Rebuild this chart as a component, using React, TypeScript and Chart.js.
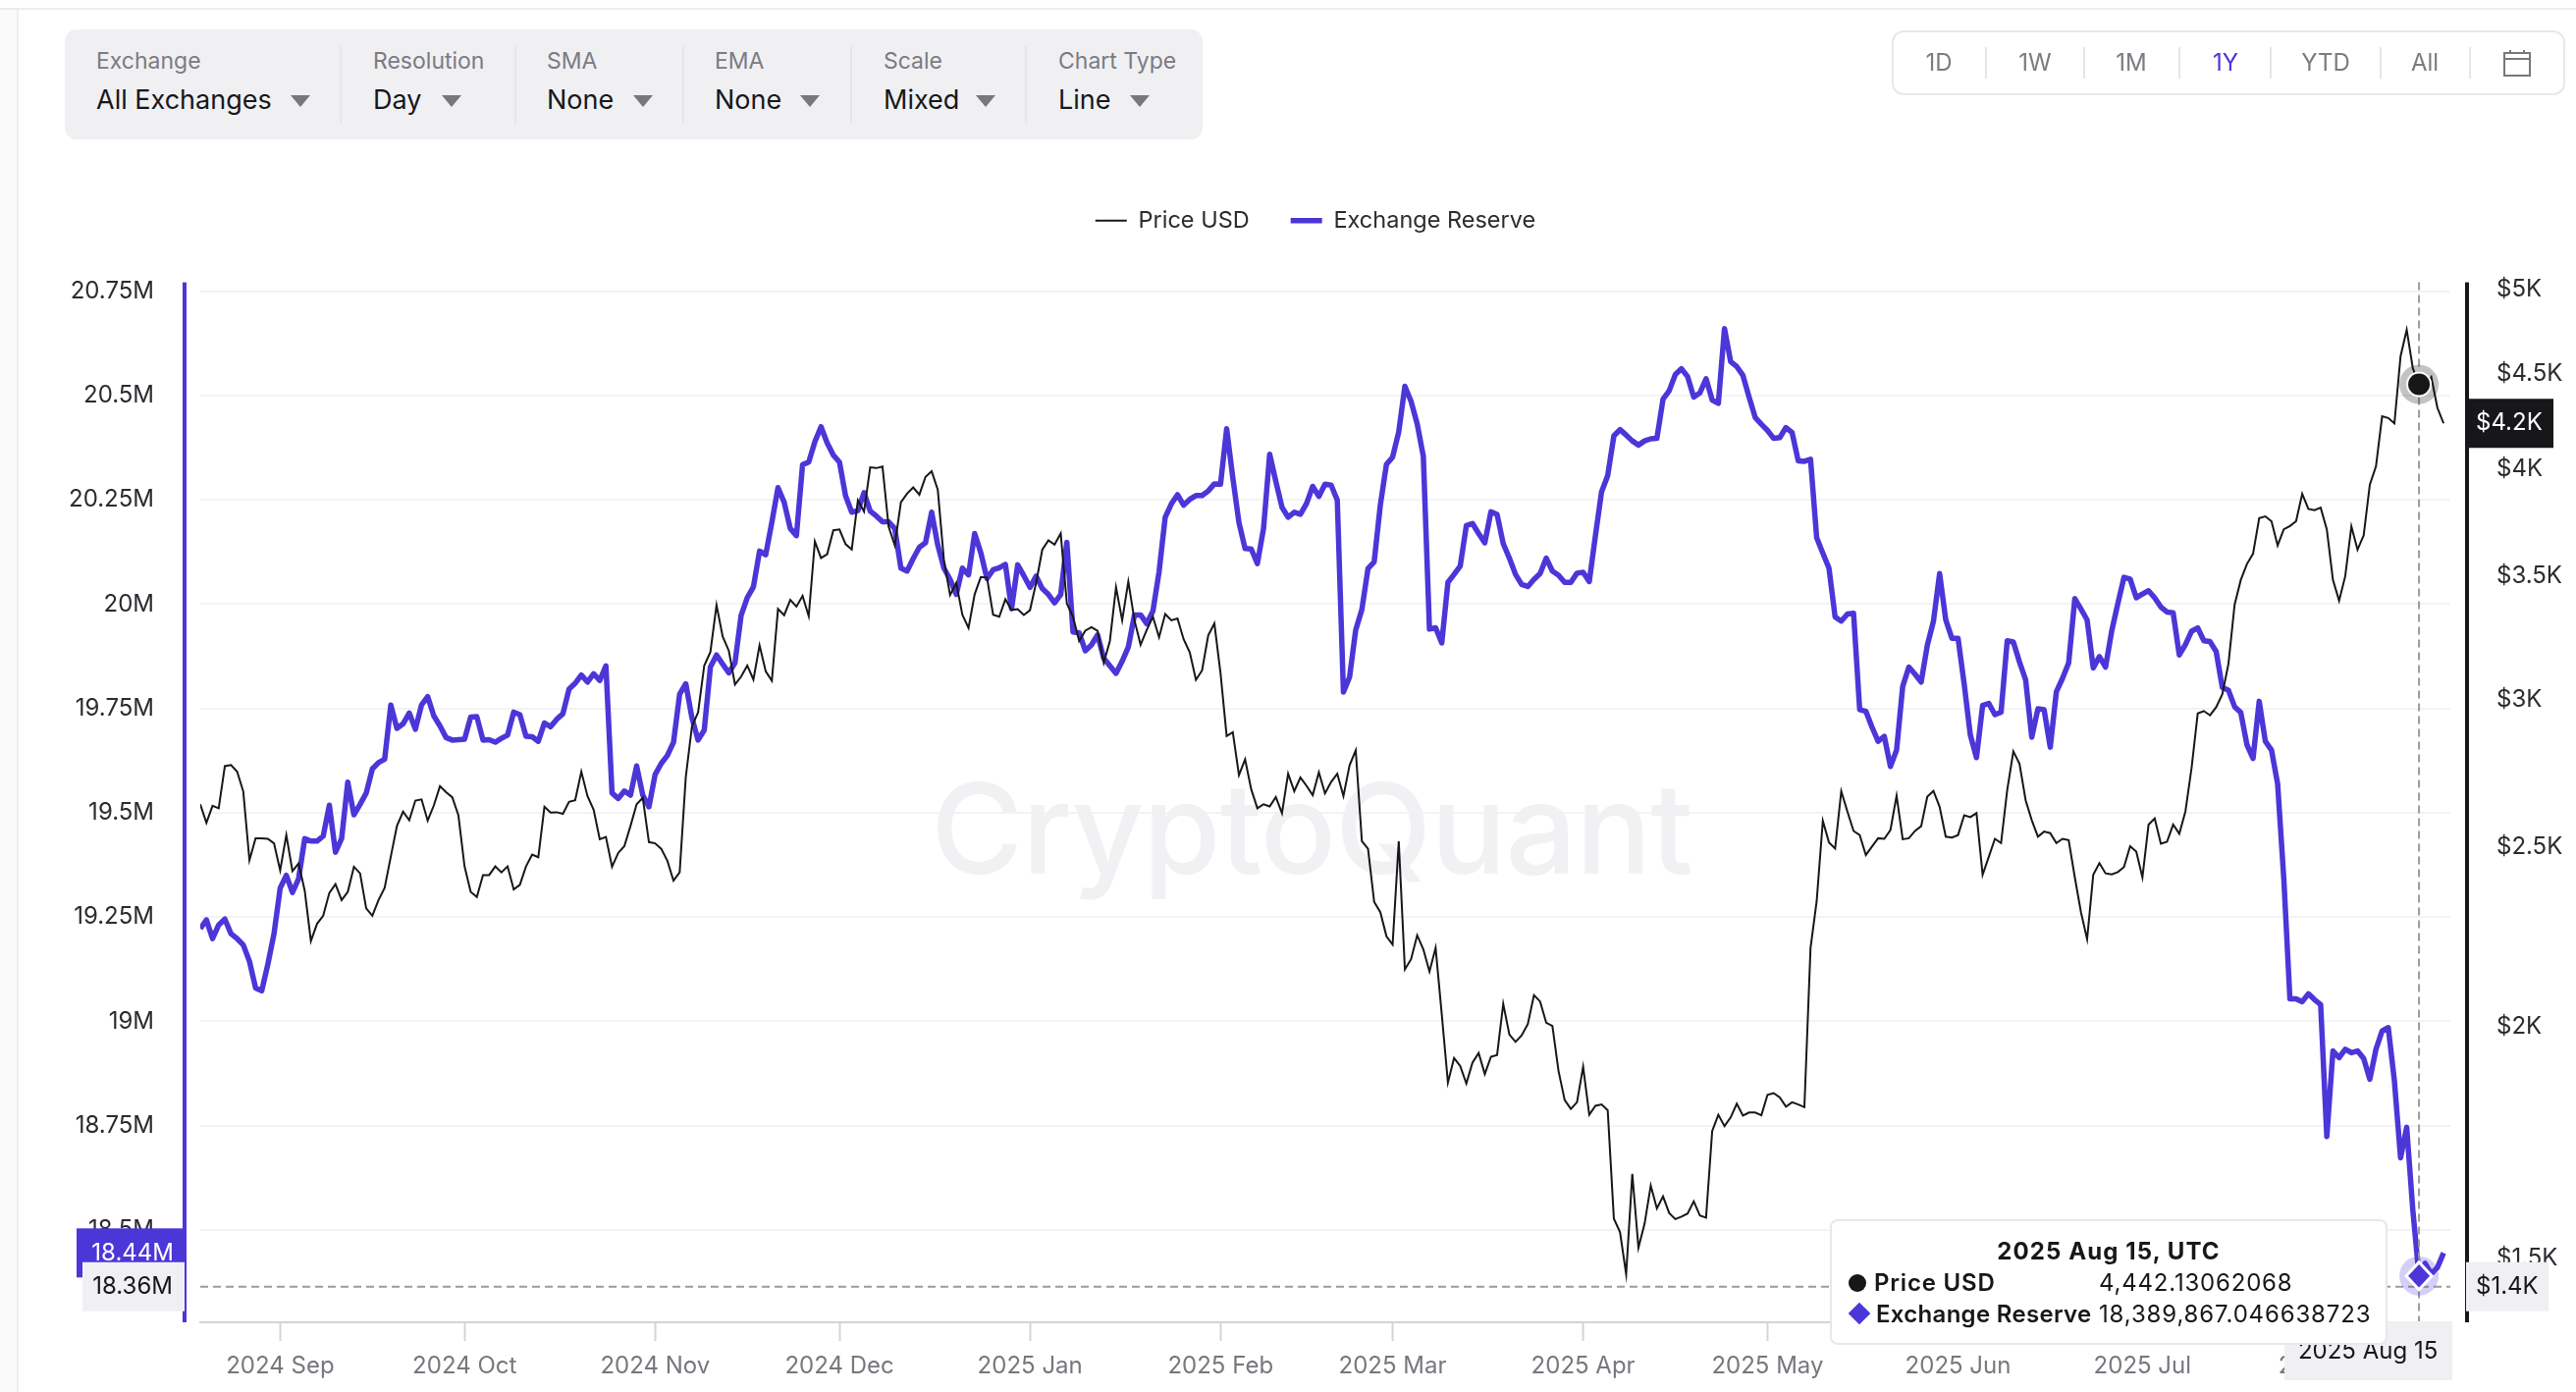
import { useEffect, useRef } from 'react';
import { Chart, registerables } from 'chart.js';

Chart.register(...registerables);

const FONT = 'Inter, "Noto Sans", sans-serif';
const PURPLE = '#4b36d8';
const INK = '#17171a';

// one value per day, 2024 Aug 19 to 2025 Aug 19
const priceUsd = [
  2636, 2576, 2631, 2623, 2764, 2768, 2745, 2678, 2459, 2527,
  2527, 2525, 2511, 2428, 2537, 2426, 2449, 2367, 2224, 2272,
  2295, 2361, 2387, 2340, 2364, 2439, 2419, 2316, 2295, 2340,
  2376, 2470, 2566, 2612, 2584, 2648, 2652, 2583, 2632, 2696,
  2676, 2659, 2600, 2440, 2364, 2349, 2414, 2414, 2440, 2422,
  2440, 2371, 2385, 2440, 2476, 2468, 2628, 2609, 2610, 2605,
  2644, 2649, 2745, 2663, 2618, 2524, 2531, 2439, 2481, 2502,
  2566, 2636, 2657, 2515, 2511, 2494, 2457, 2397, 2422, 2727,
  2904, 2955, 3132, 3185, 3376, 3247, 3190, 3059, 3089, 3132,
  3078, 3212, 3110, 3073, 3360, 3334, 3398, 3370, 3415, 3330,
  3654, 3580, 3597, 3705, 3709, 3642, 3618, 3846, 3793, 4007,
  4003, 4011, 3722, 3637, 3837, 3878, 3908, 3873, 3960, 3988,
  3896, 3569, 3419, 3471, 3336, 3282, 3422, 3496, 3494, 3336,
  3328, 3401, 3356, 3359, 3335, 3355, 3471, 3617, 3659, 3640,
  3691, 3383, 3328, 3229, 3271, 3285, 3270, 3143, 3229, 3452,
  3313, 3477, 3313, 3214, 3274, 3328, 3244, 3339, 3313, 3321,
  3236, 3184, 3077, 3113, 3251, 3300, 3103, 2869, 2883, 2733,
  2787, 2685, 2623, 2636, 2629, 2660, 2607, 2738, 2679, 2725,
  2697, 2666, 2743, 2672, 2710, 2738, 2663, 2767, 2819, 2518,
  2494, 2335, 2305, 2237, 2214, 2517, 2147, 2174, 2240, 2201,
  2141, 2205, 2030, 1865, 1923, 1904, 1863, 1912, 1935, 1885,
  1926, 1930, 2057, 1980, 1962, 1978, 2006, 2079, 2063, 2009,
  2001, 1892, 1825, 1805, 1820, 1902, 1792, 1812, 1815, 1802,
  1575, 1549, 1470, 1665, 1519, 1565, 1641, 1595, 1619, 1586,
  1574, 1579, 1585, 1609, 1581, 1577, 1756, 1792, 1767, 1786,
  1817, 1790, 1797, 1797, 1791, 1837, 1841, 1831, 1810, 1820,
  1815, 1809, 2205, 2337, 2582, 2514, 2495, 2679, 2612, 2550,
  2537, 2475, 2501, 2527, 2525, 2553, 2664, 2524, 2527, 2550,
  2565, 2661, 2680, 2628, 2532, 2529, 2537, 2600, 2594, 2607,
  2415, 2469, 2525, 2512, 2683, 2815, 2772, 2649, 2584, 2532,
  2548, 2543, 2512, 2525, 2521, 2407, 2305, 2229, 2415, 2450,
  2419, 2416, 2423, 2438, 2502, 2485, 2407, 2570, 2590, 2510,
  2516, 2570, 2541, 2613, 2758, 2951, 2960, 2944, 2974, 3022,
  3139, 3378, 3483, 3553, 3599, 3762, 3770, 3747, 3636, 3710,
  3725, 3747, 3877, 3805, 3799, 3811, 3710, 3483, 3395, 3500,
  3723, 3617, 3682, 3922, 4012, 4269, 4260, 4232, 4600, 4754,
  4532, 4442.13, 4430, 4482, 4314, 4232,
];

// millions
const exchangeReserve = [
  19.222, 19.243, 19.198, 19.231, 19.245, 19.21, 19.198, 19.183, 19.144, 19.08,
  19.073, 19.137, 19.21, 19.319, 19.35, 19.309, 19.342, 19.438, 19.432, 19.432,
  19.444, 19.518, 19.405, 19.438, 19.573, 19.495, 19.52, 19.547, 19.605, 19.62,
  19.628, 19.758, 19.702, 19.713, 19.739, 19.7, 19.758, 19.778, 19.732, 19.708,
  19.68, 19.674, 19.675, 19.676, 19.729, 19.73, 19.674, 19.675, 19.669, 19.678,
  19.686, 19.741, 19.735, 19.683, 19.682, 19.671, 19.715, 19.706, 19.724, 19.737,
  19.796, 19.81, 19.83, 19.813, 19.833, 19.817, 19.852, 19.547, 19.534, 19.552,
  19.542, 19.612, 19.542, 19.514, 19.591, 19.618, 19.637, 19.669, 19.784, 19.809,
  19.727, 19.674, 19.698, 19.849, 19.878, 19.856, 19.835, 19.859, 19.973, 20.015,
  20.041, 20.127, 20.118, 20.196, 20.279, 20.244, 20.181, 20.164, 20.334, 20.34,
  20.389, 20.425, 20.386, 20.357, 20.34, 20.259, 20.22, 20.224, 20.267, 20.223,
  20.211, 20.197, 20.197, 20.181, 20.086, 20.079, 20.109, 20.136, 20.147, 20.22,
  20.141, 20.086, 20.059, 20.023, 20.086, 20.07, 20.169, 20.123, 20.061, 20.082,
  20.087, 20.095, 19.989, 20.094, 20.068, 20.04, 20.067, 20.037, 20.023, 20.003,
  20.023, 20.148, 19.933, 19.931, 19.888, 19.902, 19.926, 19.87, 19.852, 19.834,
  19.863, 19.897, 19.974, 19.974, 19.953, 19.983, 20.077, 20.208, 20.24, 20.262,
  20.237, 20.251, 20.26, 20.26, 20.271, 20.288, 20.287, 20.42, 20.303, 20.195,
  20.133, 20.132, 20.097, 20.181, 20.359, 20.294, 20.232, 20.208, 20.22, 20.215,
  20.241, 20.282, 20.258, 20.287, 20.285, 20.249, 19.789, 19.825, 19.938, 19.987,
  20.085, 20.101, 20.237, 20.335, 20.352, 20.413, 20.522, 20.486, 20.432, 20.354,
  19.94, 19.943, 19.907, 20.052, 20.071, 20.091, 20.188, 20.193, 20.169, 20.147,
  20.221, 20.215, 20.145, 20.11, 20.071, 20.047, 20.042, 20.059, 20.073, 20.11,
  20.079, 20.069, 20.052, 20.052, 20.074, 20.076, 20.054, 20.164, 20.269, 20.308,
  20.403, 20.418, 20.405, 20.391, 20.381, 20.391, 20.396, 20.397, 20.491, 20.511,
  20.55, 20.564, 20.545, 20.496, 20.506, 20.54, 20.489, 20.481, 20.66, 20.581,
  20.569, 20.548, 20.496, 20.447, 20.431, 20.416, 20.397, 20.399, 20.423, 20.411,
  20.343, 20.342, 20.347, 20.159, 20.122, 20.086, 19.969, 19.959, 19.976, 19.978,
  19.747, 19.743, 19.705, 19.671, 19.683, 19.611, 19.65, 19.803, 19.849, 19.832,
  19.813, 19.901, 19.959, 20.073, 19.962, 19.918, 19.918, 19.808, 19.686, 19.632,
  19.757, 19.762, 19.735, 19.741, 19.912, 19.909, 19.861, 19.818, 19.681, 19.749,
  19.747, 19.657, 19.79, 19.822, 19.859, 20.013, 19.988, 19.962, 19.847, 19.874,
  19.849, 19.935, 20.001, 20.064, 20.06, 20.015, 20.024, 20.032, 20.015, 19.993,
  19.981, 19.979, 19.878, 19.903, 19.935, 19.943, 19.912, 19.91, 19.886, 19.8,
  19.793, 19.754, 19.74, 19.663, 19.63, 19.767, 19.671, 19.65, 19.569, 19.343,
  19.054, 19.054, 19.047, 19.066, 19.052, 19.04, 18.724, 18.929, 18.913, 18.933,
  18.925, 18.929, 18.911, 18.861, 18.933, 18.977, 18.985, 18.857, 18.673, 18.746,
  18.547, 18.39, 18.42, 18.395, 18.41, 18.445,
];

const monthDays = [13, 43, 74, 104, 135, 166, 194, 225, 255, 286, 316, 347];
const monthLabels = [
  '2024 Sep', '2024 Oct', '2024 Nov', '2024 Dec', '2025 Jan', '2025 Feb',
  '2025 Mar', '2025 Apr', '2025 May', '2025 Jun', '2025 Jul', '2025 Aug',
];
const reserveTicks = [18.5, 18.75, 19, 19.25, 19.5, 19.75, 20, 20.25, 20.5, 20.75];
const priceTicks = [1500, 2000, 2500, 3000, 3500, 4000, 4500, 5000];

const hoverDay = 361;
const hoverLevel = 18.364;

const controls = [
  { name: 'Exchange', value: 'All Exchanges', x: 98, arrow: 306 },
  { name: 'Resolution', value: 'Day', x: 380, arrow: 460 },
  { name: 'SMA', value: 'None', x: 557, arrow: 655 },
  { name: 'EMA', value: 'None', x: 728, arrow: 825 },
  { name: 'Scale', value: 'Mixed', x: 900, arrow: 1004 },
  { name: 'Chart Type', value: 'Line', x: 1078, arrow: 1161 },
];
const controlDividers = [346, 524, 695, 866, 1044];
const ranges = [
  { label: '1D', x: 1975 }, { label: '1W', x: 2073 }, { label: '1M', x: 2171 },
  { label: '1Y', x: 2267 }, { label: 'YTD', x: 2369 }, { label: 'All', x: 2470 },
];
const rangeDividers = [2022, 2122, 2219, 2312, 2424, 2515];

function axisTag(ctx: CanvasRenderingContext2D, x0: number, x1: number, cy: number, bg: string, color: string, text: string, textX: number, align: CanvasTextAlign) {
  ctx.fillStyle = bg;
  ctx.fillRect(x0, cy - 25, x1 - x0, 50);
  ctx.fillStyle = color;
  ctx.textAlign = align;
  ctx.textBaseline = 'middle';
  ctx.font = `24px ${FONT}`;
  ctx.fillText(text, textX, cy);
}

const overlays = {
  id: 'overlays',
  beforeDatasetsDraw(chart: any) {
    const { ctx } = chart;
    ctx.save();
    ctx.font = `500 128px ${FONT}`;
    ctx.letterSpacing = '-1px';
    ctx.fillStyle = '#f1f1f3';
    ctx.textAlign = 'center';
    ctx.textBaseline = 'alphabetic';
    ctx.fillText('CryptoQuant', 1336, 890);
    ctx.restore();
  },
  afterDraw(chart: any) {
    const { ctx, chartArea, scales } = chart;
    const { left, right, bottom } = chartArea;
    const top = scales.y.getPixelForValue(20.771);
    const hx = scales.x.getPixelForValue(hoverDay);
    const hy = scales.y.getPixelForValue(hoverLevel);
    ctx.save();

    // crosshair
    ctx.strokeStyle = '#9b9b9f';
    ctx.lineWidth = 2;
    ctx.setLineDash([8, 5]);
    ctx.beginPath();
    ctx.moveTo(hx, top);
    ctx.lineTo(hx, bottom);
    ctx.moveTo(left, hy);
    ctx.lineTo(right, hy);
    ctx.stroke();
    ctx.setLineDash([]);

    // axis lines sit a little outside the plot
    ctx.fillStyle = PURPLE;
    ctx.fillRect(left - 18, top, 4, bottom - top);
    ctx.fillStyle = INK;
    ctx.fillRect(right + 15, top, 4, bottom - top);

    // hover markers
    const pricePoint = chart.getDatasetMeta(0).data[hoverDay];
    const reservePoint = chart.getDatasetMeta(1).data[hoverDay];
    ctx.fillStyle = 'rgba(23,23,26,0.26)';
    ctx.beginPath();
    ctx.arc(pricePoint.x, pricePoint.y, 20, 0, Math.PI * 2);
    ctx.fill();
    ctx.fillStyle = '#fff';
    ctx.beginPath();
    ctx.arc(pricePoint.x, pricePoint.y, 13, 0, Math.PI * 2);
    ctx.fill();
    ctx.fillStyle = INK;
    ctx.beginPath();
    ctx.arc(pricePoint.x, pricePoint.y, 11, 0, Math.PI * 2);
    ctx.fill();

    ctx.fillStyle = 'rgba(75,54,216,0.24)';
    ctx.beginPath();
    ctx.arc(reservePoint.x, reservePoint.y, 20, 0, Math.PI * 2);
    ctx.fill();
    ctx.fillStyle = PURPLE;
    ctx.strokeStyle = '#fff';
    ctx.lineWidth = 3;
    ctx.beginPath();
    ctx.moveTo(reservePoint.x, reservePoint.y - 14);
    ctx.lineTo(reservePoint.x + 13, reservePoint.y);
    ctx.lineTo(reservePoint.x, reservePoint.y + 14);
    ctx.lineTo(reservePoint.x - 13, reservePoint.y);
    ctx.closePath();
    ctx.fill();
    ctx.stroke();

    // value tags on the axes
    const lastReserve = exchangeReserve[exchangeReserve.length - 1];
    const lastPrice = priceUsd[priceUsd.length - 1];
    axisTag(ctx, 78, 190, scales.y.getPixelForValue(lastReserve), PURPLE, '#fff', '18.44M', 177, 'right');
    axisTag(ctx, 84, 188, hy, '#f0f0f2', INK, '18.36M', 176, 'right');
    axisTag(ctx, right + 16, 2601, scales.y1.getPixelForValue(lastPrice), INK, '#fff', '$4.2K', 2522, 'left');
    axisTag(ctx, right + 16, 2596, hy, '#f0f0f2', INK, '$1.4K', 2522, 'left');

    ctx.fillStyle = '#f0f0f2';
    ctx.fillRect(hx - 137, 1346, 171, 60);
    ctx.fillStyle = INK;
    ctx.textAlign = 'center';
    ctx.textBaseline = 'middle';
    ctx.font = `24px ${FONT}`;
    ctx.fillText('2025 Aug 15', hx - 52, 1377);
    ctx.restore();
  },
};

function ReserveChart() {
  const canvasRef = useRef<HTMLCanvasElement>(null);

  useEffect(() => {
    if (!canvasRef.current) return;
    const chart = new Chart(canvasRef.current, {
      type: 'line',
      data: {
        datasets: [
          {
            label: 'Price USD',
            data: priceUsd.map((y, x) => ({ x, y })),
            yAxisID: 'y1',
            borderColor: INK,
            backgroundColor: INK,
            borderWidth: 2,
            pointRadius: 0,
            tension: 0,
          },
          {
            label: 'Exchange Reserve',
            data: exchangeReserve.map((y, x) => ({ x, y })),
            yAxisID: 'y',
            borderColor: PURPLE,
            backgroundColor: PURPLE,
            borderWidth: 5.5,
            borderJoinStyle: 'round',
            pointRadius: 0,
            tension: 0,
          },
        ],
      },
      options: {
        animation: false,
        responsive: false,
        devicePixelRatio: 1,
        layout: { autoPadding: false, padding: { left: 56, top: 171, right: 0, bottom: 0 } },
        plugins: {
          tooltip: { enabled: false },
          legend: {
            position: 'top',
            labels: {
              usePointStyle: true,
              pointStyle: 'line',
              pointStyleWidth: 32,
              padding: 42,
              color: '#2b2b30',
              font: { family: FONT, size: 23.5 },
            },
          },
        },
        scales: {
          x: {
            type: 'linear',
            min: 0,
            max: 366.1,
            afterFit: (scale: any) => { scale.height = 71; },
            afterBuildTicks: (scale: any) => { scale.ticks = monthDays.map((value) => ({ value })); },
            border: { color: '#d4d4d6', width: 2 },
            grid: { drawOnChartArea: false, drawTicks: true, tickLength: 19, tickColor: '#d4d4d6', tickWidth: 2 },
            ticks: {
              autoSkip: false,
              maxRotation: 0,
              padding: 11,
              color: '#77777d',
              font: { family: FONT, size: 24 },
              callback: (value: any) => monthLabels[monthDays.indexOf(value)],
            },
          },
          y: {
            position: 'left',
            min: 18.2787,
            max: 20.8677,
            afterFit: (scale: any) => { scale.width = 148; },
            afterBuildTicks: (scale: any) => { scale.ticks = reserveTicks.map((value) => ({ value })); },
            border: { display: false },
            grid: { color: '#f3f3f5', lineWidth: 2, drawTicks: false },
            ticks: {
              autoSkip: false,
              padding: 47,
              color: '#2b2b30',
              font: { family: FONT, size: 24 },
              callback: (value: any) => `${value}M`,
            },
          },
          y1: {
            type: 'logarithmic',
            position: 'right',
            min: 1384.6,
            max: 5302,
            afterFit: (scale: any) => { scale.width = 128; },
            afterBuildTicks: (scale: any) => { scale.ticks = priceTicks.map((value) => ({ value })); },
            border: { display: false },
            grid: { display: false, drawTicks: false },
            ticks: {
              autoSkip: false,
              padding: 47,
              color: '#2b2b30',
              font: { family: FONT, size: 24 },
              callback: (value: any) => `$${value / 1000}K`,
            },
          },
        },
      },
      plugins: [overlays],
    } as any);
    return () => { chart.destroy(); };
  }, []);

  return <canvas ref={canvasRef} width={2624} height={1418} style={{ display: 'block', position: 'absolute', left: 0, top: 0, width: 2624, height: 1418 }} />;
}

const abs = (left: number, top: number, extra: any = {}) => ({ position: 'absolute', left, top, ...extra });

function Toolbar() {
  return (
    <div>
      <div style={abs(66, 30, { width: 1159, height: 112, background: '#f0f0f3', borderRadius: 12 }) as any} />
      {controlDividers.map((x) => (
        <div key={x} style={abs(x, 47, { width: 2, height: 79, background: '#e6e6e9' }) as any} />
      ))}
      {controls.map((c) => (
        <div key={c.name}>
          <div style={abs(c.x, 47, { fontSize: 23, lineHeight: '30px', color: '#7b7b81', whiteSpace: 'nowrap' }) as any}>{c.name}</div>
          <div style={abs(c.x, 84, { fontSize: 27, lineHeight: '36px', color: '#17171a', whiteSpace: 'nowrap' }) as any}>{c.value}</div>
          <div style={abs(c.arrow - 10, 97, { width: 0, height: 0, borderLeft: '10px solid transparent', borderRight: '10px solid transparent', borderTop: '12px solid #77777c' }) as any} />
        </div>
      ))}
      <div style={abs(1927, 31, { width: 686, height: 66, boxSizing: 'border-box', border: '2px solid #e8e8ea', borderRadius: 12 }) as any} />
      {rangeDividers.map((x) => (
        <div key={x} style={abs(x, 48, { width: 2, height: 32, background: '#e6e6e9' }) as any} />
      ))}
      {ranges.map((r) => (
        <div key={r.label} style={abs(r.x - 40, 49, { width: 80, textAlign: 'center', fontSize: 24, lineHeight: '30px', color: r.label === '1Y' ? PURPLE : '#7b7b81' }) as any}>{r.label}</div>
      ))}
      <svg style={abs(2549, 50) as any} width="30" height="28" viewBox="0 0 30 28" fill="none" stroke="#77777c" strokeWidth="2">
        <rect x="2" y="4" width="26" height="23" />
        <path d="M2 10H28M8 1V5M22 1V5" />
      </svg>
    </div>
  );
}

function HoverTooltip() {
  return (
    <div style={abs(1864, 1242, { width: 568, height: 128, boxSizing: 'border-box', background: '#fff', border: '2px solid #e8e8ea', borderRadius: 8, color: '#17171a', fontSize: 24, lineHeight: '30px', whiteSpace: 'nowrap' }) as any}>
      <div style={abs(0, 16, { width: 564, textAlign: 'center', fontWeight: 700, letterSpacing: 1.1 }) as any}>2025 Aug 15, UTC</div>
      <div style={abs(17, 54, { width: 18, height: 18, borderRadius: 9, background: '#17171a' }) as any} />
      <div style={abs(43, 48, { fontWeight: 600, letterSpacing: 0.8 }) as any}>Price USD</div>
      <div style={abs(272, 48, { letterSpacing: 0.8 }) as any}>4,442.13062068</div>
      <div style={abs(20, 86, { width: 16, height: 16, background: PURPLE, transform: 'rotate(45deg)' }) as any} />
      <div style={abs(45, 80, { fontWeight: 600, letterSpacing: 0.3 }) as any}>Exchange Reserve</div>
      <div style={abs(272, 80, { letterSpacing: 0.85 }) as any}>18,389,867.046638723</div>
    </div>
  );
}

export default function App() {
  useEffect(() => {
    document.body.style.margin = '0';
  }, []);

  return (
    <div style={{ position: 'relative', width: 2624, height: 1418, overflow: 'hidden', background: '#fff', fontFamily: FONT }}>
      <ReserveChart />
      <div style={abs(0, 8, { width: 2624, height: 2, background: '#ececee' }) as any} />
      <div style={abs(0, 10, { width: 17, height: 1408, background: '#fafafa', borderRight: '2px solid #eeeeef' }) as any} />
      <Toolbar />
      <HoverTooltip />
    </div>
  );
}
